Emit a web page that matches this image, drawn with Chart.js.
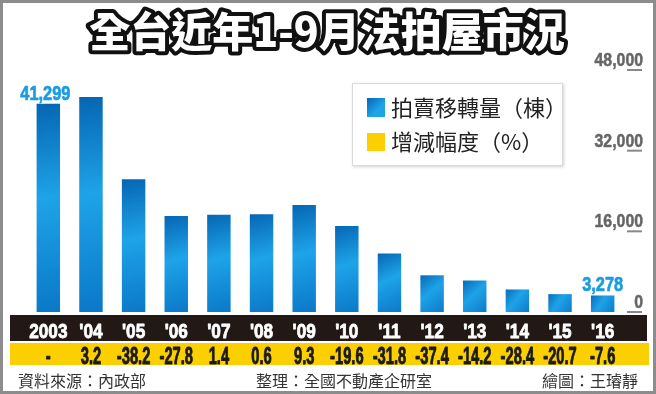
<!DOCTYPE html>
<html>
<head>
<meta charset="utf-8">
<script src="https://cdn.jsdelivr.net/npm/chart.js@4"></script>
<style>
  html, body { margin: 0; padding: 0; background: #fff; }
  #wrap { width: 656px; height: 394px; }
</style>
</head>
<body>
<div id="wrap"><canvas id="chart" width="656" height="394"></canvas></div>
<script>
// data
const years = ['2003', "'04", "'05", "'06", "'07", "'08", "'09", "'10", "'11", "'12", "'13", "'14", "'15", "'16"];
const transfers = [41299, 42621, 26340, 19017, 19283, 19399, 21203, 17047, 11626, 7278, 6245, 4471, 3546, 3278];
const changes = ['-', '3.2', '-38.2', '-27.8', '1.4', '0.6', '9.3', '-19.6', '-31.8', '-37.4', '-14.2', '-28.4', '-20.7', '-7.6'];
const yTicks = [0, 16000, 32000, 48000];
const labelledBars = [0, 13];

const title = '全台近年1-9月法拍屋市況';
const legendItems = ['拍賣移轉量（棟）', '增減幅度（%）'];
const footer = ['資料來源：內政部', '整理：全國不動產企研室', '繪圖：王璿靜'];

const BLUE = '#1a9ce2';
const BAND_BLACK = '#221815';
const BAND_YELLOW = '#fcd000';
// condensed look: Liberation Sans bold squeezed horizontally
const NUM = '"Liberation Sans", Arial, sans-serif';
const CJK = '"Noto Sans CJK TC", "Noto Sans CJK SC", sans-serif';

// bar fill: darker top / lighter middle, per bar
function barFill(ctx) {
  const chart = ctx.chart;
  if (!chart.chartArea || !chart.scales.y) return BLUE;
  const ys = chart.scales.y;
  const xs = chart.scales.x;
  const top = ys.getPixelForValue(ctx.raw);
  const bottom = ys.getPixelForValue(0);
  const x = xs.getPixelForValue(ctx.dataIndex);
  const g = chart.ctx.createLinearGradient(x - 14, top, x + 14, bottom);
  g.addColorStop(0, '#0565b3');
  g.addColorStop(0.45, '#1ea3e8');
  g.addColorStop(1, '#0a78c8');
  return g;
}

// squeezed text, with a thin stroke to make it heavier
function scaledText(c, text, x, y, sx, align, heavy) {
  c.save();
  c.translate(x, y);
  c.scale(sx, 1);
  c.textAlign = align || 'center';
  c.fillText(text, 0, 0);
  if (heavy) {
    c.strokeStyle = c.fillStyle;
    c.lineWidth = heavy;
    c.lineJoin = 'round';
    c.strokeText(text, 0, 0);
  }
  c.restore();
}

const decorations = {
  id: 'decorations',
  beforeDraw(chart) {
    const c = chart.ctx;
    c.save();
    c.fillStyle = '#fff';
    c.fillRect(0, 0, chart.width, chart.height);

    // title: white with thick black outline
    c.font = '900 41px ' + CJK;
    c.textAlign = 'center';
    c.textBaseline = 'middle';
    c.lineJoin = 'round';
    c.lineWidth = 8;
    c.strokeStyle = '#111';
    c.strokeText(title, 327, 31);
    c.fillStyle = '#fff';
    c.fillText(title, 327, 31);
    c.restore();
  },
  afterDatasetsDraw(chart) {
    const c = chart.ctx;
    const xs = chart.scales.x;
    const ys = chart.scales.y;
    c.save();

    // bands under the bars
    c.fillStyle = BAND_BLACK;
    c.fillRect(10, 315, 637, 26);
    c.fillStyle = BAND_YELLOW;
    c.fillRect(10, 343, 639, 22);

    c.textBaseline = 'alphabetic';
    years.forEach((yr, i) => {
      const x = xs.getPixelForValue(i);
      c.fillStyle = '#fff';
      c.font = 'bold 20px ' + NUM;
      scaledText(c, yr, x, 337.5, 0.86, 'center', 0.8);
      c.fillStyle = '#1a1a1a';
      c.font = 'bold 23px ' + NUM;
      scaledText(c, changes[i], x, 363.5, 0.64, 'center', 0.9);
    });

    // value labels on highlighted bars
    c.fillStyle = BLUE;
    c.font = 'bold 21px ' + NUM;
    labelledBars.forEach(i => {
      const x = xs.getPixelForValue(i);
      const top = ys.getPixelForValue(transfers[i]);
      scaledText(c, transfers[i].toLocaleString('en-US'), x - (i === 0 ? 3 : 0), top - 4, 0.78, 'center', 0.7);
    });

    // y ticks drawn inside the plot, at the right
    c.font = 'bold 18px ' + NUM;
    yTicks.forEach(v => {
      const py = ys.getPixelForValue(v);
      c.fillStyle = '#666';
      scaledText(c, v.toLocaleString('en-US'), 643, py - 4, 0.88, 'right', 0.5);
      c.fillStyle = '#888';
      c.fillRect(627, py - 1, 15, 2);
    });

    // legend box
    c.save();
    c.shadowColor = 'rgba(0,0,0,0.18)';
    c.shadowBlur = 3;
    c.shadowOffsetX = 1;
    c.shadowOffsetY = 1;
    c.fillStyle = '#fff';
    c.fillRect(352, 83, 211, 83);
    c.restore();
    c.strokeStyle = '#dadada';
    c.lineWidth = 1;
    c.strokeRect(352.5, 83.5, 210, 82);

    const sq = c.createLinearGradient(367, 98, 385, 117);
    sq.addColorStop(0, '#0565b3');
    sq.addColorStop(0.6, '#1ea3e8');
    c.fillStyle = sq;
    c.fillRect(367, 98, 18, 19);
    c.fillStyle = BAND_YELLOW;
    c.fillRect(367, 133, 18, 18);

    c.fillStyle = '#222';
    c.font = '22px ' + CJK;
    c.textAlign = 'left';
    c.textBaseline = 'middle';
    c.fillText(legendItems[0], 391, 108);
    c.fillText(legendItems[1], 391, 142);

    // footer
    c.fillStyle = '#333';
    c.font = '16px ' + CJK;
    c.fillText(footer[0], 18, 381);
    c.fillText(footer[1], 256, 381);
    c.textAlign = 'right';
    c.fillText(footer[2], 638, 381);

    // grey frame
    c.strokeStyle = '#8c8c8c';
    c.lineWidth = 3;
    c.strokeRect(1.5, 1.5, chart.width - 3, chart.height - 3);
    c.restore();
  }
};

new Chart(document.getElementById('chart'), {
  type: 'bar',
  data: {
    labels: years,
    datasets: [{
      label: legendItems[0],
      data: transfers,
      backgroundColor: barFill,
      borderWidth: 0,
      categoryPercentage: 1,
      barPercentage: 0.55
    }]
  },
  options: {
    responsive: false,
    animation: false,
    devicePixelRatio: 1,
    layout: { padding: { left: 27, right: 32, top: 70, bottom: 82 } },
    scales: {
      x: { display: false },
      y: { display: false, min: 0, max: 48000 }
    },
    plugins: {
      legend: { display: false },
      tooltip: { enabled: false }
    }
  },
  plugins: [decorations]
});
</script>
</body>
</html>
